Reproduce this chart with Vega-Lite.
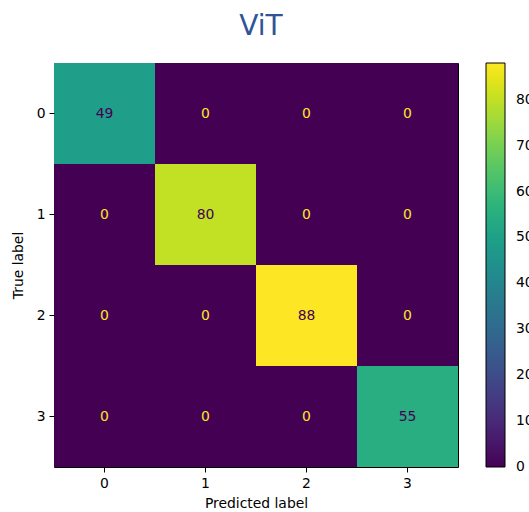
{
  "$schema": "https://vega.github.io/schema/vega-lite/v6.json",
  "autosize": "none",
  "padding": {"left": 54, "top": 63, "right": 71, "bottom": 45},
  "width": 404,
  "height": 404,
  "title": {"text": "ViT", "fontSize": 28, "font": "DejaVu Sans", "fontWeight": "normal", "color": "#2d5597", "baseline": "alphabetic", "offset": 0, "dx": 5, "anchor": "middle"},
  "config": {
    "view": {"stroke": "#000000", "strokeWidth": 1},
    "font": "DejaVu Sans",
    "axis": {"grid": false, "domain": false, "tickColor": "#000000", "tickSize": 5, "tickWidth": 1, "labelColor": "#000000", "labelFontSize": 13.9, "labelFont": "DejaVu Sans", "titleFont": "DejaVu Sans", "titleFontSize": 13.9, "titleFontWeight": "normal", "titleColor": "#000000", "labelPadding": 4}
  },
  "data": {"values": [
    {"true": 0, "pred": 0, "count": 49},
    {"true": 0, "pred": 1, "count": 0},
    {"true": 0, "pred": 2, "count": 0},
    {"true": 0, "pred": 3, "count": 0},
    {"true": 1, "pred": 0, "count": 0},
    {"true": 1, "pred": 1, "count": 80},
    {"true": 1, "pred": 2, "count": 0},
    {"true": 1, "pred": 3, "count": 0},
    {"true": 2, "pred": 0, "count": 0},
    {"true": 2, "pred": 1, "count": 0},
    {"true": 2, "pred": 2, "count": 88},
    {"true": 2, "pred": 3, "count": 0},
    {"true": 3, "pred": 0, "count": 0},
    {"true": 3, "pred": 1, "count": 0},
    {"true": 3, "pred": 2, "count": 0},
    {"true": 3, "pred": 3, "count": 55}
  ]},
  "encoding": {
    "x": {"field": "pred", "type": "ordinal", "scale": {"paddingInner": 0, "paddingOuter": 0}, "axis": {"title": "Predicted label", "labelAngle": 0, "titlePadding": 7}},
    "y": {"field": "true", "type": "ordinal", "scale": {"paddingInner": 0, "paddingOuter": 0}, "axis": {"title": "True label", "titlePadding": 11}}
  },
  "layer": [
    {
      "mark": {"type": "rect"},
      "encoding": {
        "color": {"field": "count", "type": "quantitative", "scale": {"scheme": "viridis", "domain": [-0.01, 88], "nice": false, "zero": false},
          "legend": {"title": null, "orient": "right", "offset": 28, "padding": 0, "gradientLength": 404, "gradientThickness": 19, "gradientStrokeColor": "#000000", "gradientStrokeWidth": 1, "values": [0, 10, 20, 30, 40, 50, 60, 70, 80], "labelFontSize": 13.9, "labelFont": "DejaVu Sans", "labelColor": "#000000", "labelOffset": 11, "labelBaseline": "middle", "labelOverlap": false}}
      }
    },
    {
      "mark": {"type": "text", "fontSize": 13.9, "font": "DejaVu Sans"},
      "encoding": {
        "text": {"field": "count", "type": "quantitative"},
        "color": {"condition": {"test": "datum.count > 44", "value": "#440154"}, "value": "#fde725"}
      }
    }
  ]
}
